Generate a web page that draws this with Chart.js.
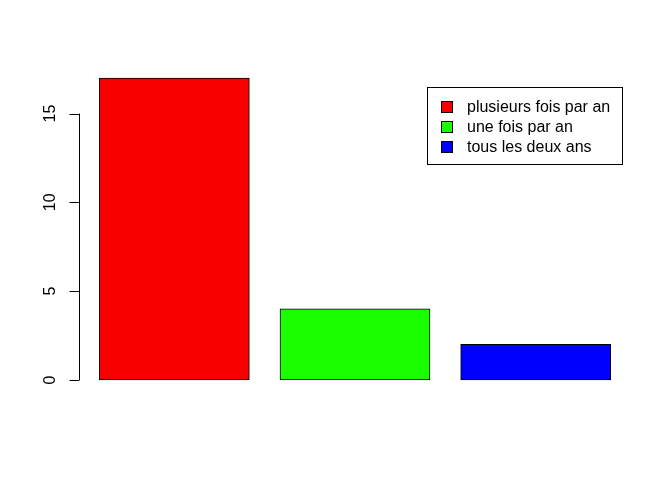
<!DOCTYPE html>
<html>
<head>
<meta charset="utf-8">
<script src="https://cdn.jsdelivr.net/npm/chart.js@4/dist/chart.umd.min.js"></script>
<style>
  html, body { margin: 0; padding: 0; background: #fff; }
  #c { display: block; }
</style>
</head>
<body>
<canvas id="c" width="672" height="480"></canvas>
<script>
const categories = ['plusieurs fois par an', 'une fois par an', 'tous les deux ans'];
const counts = [17, 4, 2];
const barColors = ['#f80000', '#1aff00', '#0000ff'];
const yTicks = [0, 5, 10, 15];

const FONT = '16px "Liberation Sans", Arial, Helvetica, sans-serif';

// R-style axis (line only between first and last tick) and boxed legend
const rDecor = {
    id: 'rDecor',
    afterDraw(chart) {
        const ctx = chart.ctx;
        const y = chart.scales.y;
        const area = chart.chartArea;
        const axX = Math.round(area.left - 5) + 0.5;

        ctx.save();
        ctx.strokeStyle = '#000';
        ctx.lineWidth = 1;
        ctx.beginPath();
        ctx.moveTo(axX, y.getPixelForValue(yTicks[0]));
        ctx.lineTo(axX, y.getPixelForValue(yTicks[yTicks.length - 1]));
        yTicks.forEach(t => {
            const py = Math.round(y.getPixelForValue(t)) + 0.5;
            ctx.moveTo(axX, py);
            ctx.lineTo(axX - 10, py);
        });
        ctx.stroke();

        ctx.fillStyle = '#000';
        ctx.font = FONT;
        ctx.textAlign = 'center';
        ctx.textBaseline = 'middle';
        yTicks.forEach(t => {
            ctx.save();
            ctx.translate(51, y.getPixelForValue(t));
            ctx.rotate(-Math.PI / 2);
            ctx.fillText(String(t), 0, 0);
            ctx.restore();
        });

        // legend
        const lx = 427.5, ly = 87.5, lw = 195, lh = 77;
        ctx.strokeRect(lx, ly, lw, lh);
        ctx.textAlign = 'left';
        categories.forEach((name, i) => {
            const cy = 107 + i * 20;
            ctx.fillStyle = barColors[i];
            ctx.fillRect(441.5, cy - 5.5, 11, 11);
            ctx.strokeStyle = '#000';
            ctx.strokeRect(441.5, cy - 5.5, 11, 11);
            ctx.fillStyle = '#000';
            ctx.fillText(name, 467, cy + 1);
        });
        ctx.restore();
    }
};

new Chart(document.getElementById('c'), {
    type: 'bar',
    data: {
        labels: categories,
        datasets: [{
            data: counts,
            backgroundColor: barColors,
            borderColor: '#000',
            borderWidth: 1,
            borderSkipped: false,
            barThickness: 150
        }]
    },
    options: {
        responsive: false,
        animation: false,
        devicePixelRatio: 1,
        layout: { padding: { left: 84, right: 46, top: 66, bottom: 88 } },
        plugins: { legend: { display: false }, tooltip: { enabled: false } },
        scales: {
            x: { display: false },
            y: { display: false, min: -0.68, max: 17.68 }
        }
    },
    plugins: [rDecor]
});
</script>
</body>
</html>
